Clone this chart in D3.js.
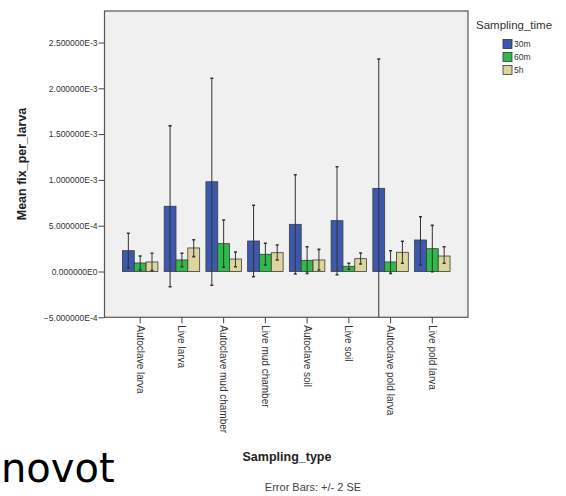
<!DOCTYPE html>
<html>
<head>
<meta charset="utf-8">
<script src="https://cdn.jsdelivr.net/npm/d3@7"></script>
<style>
  body { margin: 0; background: #fff; }
  text { font-family: "Liberation Sans", Arial, sans-serif; }
</style>
</head>
<body>
<div id="chart"></div>
<script>
// Data (values in units of 1E-4)
const categories = ['Autoclave larva', 'Live larva', 'Autoclave mud chamber', 'Live mud chamber',
  'Autoclave soil', 'Live soil', 'Autoclave pold larva', 'Live pold larva']
const times = ['30m', '60m', '5h']
const colors = ['#3d59ae', '#2fbb4c', '#dcd69c']

const mean30m = [2.27, 7.12, 9.80, 3.33, 5.15, 5.55, 9.08, 3.44]
const mean60m = [0.93, 1.26, 3.04, 1.88, 1.22, 0.57, 1.04, 2.49]
const mean5h = [1.04, 2.57, 1.36, 2.05, 1.26, 1.40, 2.10, 1.69]

const hi30m = [4.17, 15.9, 21.1, 7.23, 10.57, 11.44, 23.2, 5.98]
const lo30m = [0.40, -1.66, -1.50, -0.57, -0.27, -0.35, -5.3, 0.71]
const hi60m = [1.69, 1.99, 5.62, 3.08, 2.71, 0.90, 2.27, 5.04]
const lo60m = [0.16, 0.52, 0.46, 0.71, -0.20, 0.24, -0.20, -0.02]
const hi5h = [1.99, 3.47, 2.13, 2.89, 2.42, 2.02, 3.30, 2.71]
const lo5h = [0.10, 1.62, 0.52, 1.26, 0.16, 0.82, 0.90, 0.90]

const yTicks = [-5e-4, 0, 5e-4, 1e-3, 1.5e-3, 2e-3, 2.5e-3]

function draw() {
  const means = [mean30m, mean60m, mean5h]
  const his = [hi30m, hi60m, hi5h]
  const los = [lo30m, lo60m, lo5h]

  const dataset = []
  categories.forEach((c, i) => {
    times.forEach((t, j) => {
      dataset.push({
        cat: c, time: t,
        mean: means[j][i] * 1e-4,
        hi: his[j][i] * 1e-4,
        lo: los[j][i] * 1e-4
      })
    })
  })

  const plot = { left: 104.5, right: 468, top: 11, bottom: 317.3 }

  const svg = d3.select('#chart')
    .append('svg')
    .attr('width', 566)
    .attr('height', 496)

  // Scales
  const xScale = d3.scaleBand()
    .domain(categories)
    .range([plot.left, plot.right])
    .paddingInner(0.15)
    .paddingOuter(0.43)

  const subScale = d3.scaleBand()
    .domain(times)
    .range([0, xScale.bandwidth()])

  const yScale = d3.scaleLinear()
    .domain([-5e-4, 2.844e-3])
    .range([plot.bottom, plot.top])

  const colorScale = d3.scaleOrdinal().domain(times).range(colors)

  // Plot background
  svg.append('rect')
    .attr('x', plot.left)
    .attr('y', plot.top)
    .attr('width', plot.right - plot.left)
    .attr('height', plot.bottom - plot.top)
    .attr('fill', '#f0f0f0')

  svg.append('clipPath').attr('id', 'clip')
    .append('rect')
    .attr('x', plot.left)
    .attr('y', plot.top)
    .attr('width', plot.right - plot.left)
    .attr('height', plot.bottom - plot.top)

  const ctr = svg.append('g').attr('clip-path', 'url(#clip)')

  // Bars
  ctr.selectAll('rect.bar')
    .data(dataset)
    .join('rect')
    .attr('class', 'bar')
    .attr('x', d => xScale(d.cat) + subScale(d.time))
    .attr('width', subScale.bandwidth())
    .attr('y', d => yScale(Math.max(0, d.mean)))
    .attr('height', d => Math.abs(yScale(d.mean) - yScale(0)))
    .attr('fill', d => colorScale(d.time))
    .attr('stroke', '#3a3a3a')
    .attr('stroke-width', 0.8)

  // Error bars
  const cx = d => xScale(d.cat) + subScale(d.time) + subScale.bandwidth() / 2
  const err = ctr.selectAll('g.err')
    .data(dataset)
    .join('g')
    .attr('class', 'err')
    .attr('stroke', '#333')
    .attr('stroke-width', 1)

  err.append('line')
    .attr('x1', cx).attr('x2', cx)
    .attr('y1', d => yScale(d.hi))
    .attr('y2', d => yScale(d.lo))
  err.append('line')
    .attr('x1', d => cx(d) - 1.5).attr('x2', d => cx(d) + 1.5)
    .attr('y1', d => yScale(d.hi)).attr('y2', d => yScale(d.hi))
    .attr('stroke-width', 1.6)
  err.append('line')
    .attr('x1', d => cx(d) - 1.5).attr('x2', d => cx(d) + 1.5)
    .attr('y1', d => yScale(d.lo)).attr('y2', d => yScale(d.lo))
    .attr('stroke-width', 1.6)

  // Frame
  svg.append('rect')
    .attr('x', plot.left)
    .attr('y', plot.top)
    .attr('width', plot.right - plot.left)
    .attr('height', plot.bottom - plot.top)
    .attr('fill', 'none')
    .attr('stroke', '#555')
    .attr('stroke-width', 1.2)

  // Axes
  const yAxis = d3.axisLeft(yScale)
    .tickValues(yTicks)
    .tickSize(6)
    .tickFormat(v => d3.format('.6e')(v).replace('e+', 'E').replace('e', 'E'))

  const yAxisGroup = svg.append('g')
    .attr('transform', `translate(${plot.left}, 0)`)
    .call(yAxis)
  yAxisGroup.select('.domain').remove()
  yAxisGroup.selectAll('.tick line').attr('stroke', '#444')
  yAxisGroup.selectAll('.tick text')
    .attr('x', -7)
    .style('font-size', '8.5px')
    .style('font-family', '"Liberation Sans Narrow", "Liberation Sans", Arial')
    .attr('fill', '#333')

  const xAxis = d3.axisBottom(xScale).tickSize(6).tickSizeOuter(0)
  const xAxisGroup = svg.append('g')
    .attr('transform', `translate(0, ${plot.bottom})`)
    .call(xAxis)
  xAxisGroup.select('.domain').remove()
  xAxisGroup.selectAll('.tick line').attr('stroke', '#444')
  xAxisGroup.selectAll('.tick text')
    .attr('transform', 'rotate(90)')
    .attr('x', 8)
    .attr('y', 0)
    .attr('dy', '0.35em')
    .attr('text-anchor', 'start')
    .style('font-size', '10px')
    .attr('fill', '#333')

  // Axis titles
  svg.append('text')
    .attr('transform', 'translate(26, 164) rotate(-90)')
    .attr('text-anchor', 'middle')
    .style('font-size', '12.5px')
    .style('font-weight', 'bold')
    .attr('fill', '#222')
    .text('Mean fix_per_larva')

  svg.append('text')
    .attr('x', 287)
    .attr('y', 461)
    .attr('text-anchor', 'middle')
    .style('font-size', '12.5px')
    .style('font-weight', 'bold')
    .attr('fill', '#222')
    .text('Sampling_type')

  svg.append('text')
    .attr('x', 313)
    .attr('y', 491)
    .attr('text-anchor', 'middle')
    .style('font-size', '11px')
    .attr('fill', '#444')
    .text('Error Bars: +/- 2 SE')

  // Legend
  const legend = svg.append('g')
  legend.append('text')
    .attr('x', 476)
    .attr('y', 29)
    .style('font-size', '11.5px')
    .attr('fill', '#333')
    .text('Sampling_time')

  const items = legend.selectAll('g.item')
    .data(times)
    .join('g')
    .attr('class', 'item')
    .attr('transform', (d, i) => `translate(503, ${39.5 + i * 13})`)
  items.append('rect')
    .attr('width', 9)
    .attr('height', 9)
    .attr('fill', d => colorScale(d))
    .attr('stroke', '#333')
    .attr('stroke-width', 0.8)
  items.append('text')
    .attr('x', 11)
    .attr('y', 7.5)
    .style('font-size', '8.5px')
    .style('font-family', '"Liberation Sans Narrow", "Liberation Sans", Arial')
    .attr('fill', '#333')
    .text(d => d)

  // Stray slide text at bottom-left
  svg.append('text')
    .attr('x', 1)
    .attr('y', 482)
    .style('font-family', '"DejaVu Sans", sans-serif')
    .style('font-size', '40px')
    .attr('fill', '#000')
    .text('novot')
}

draw()
</script>
</body>
</html>
